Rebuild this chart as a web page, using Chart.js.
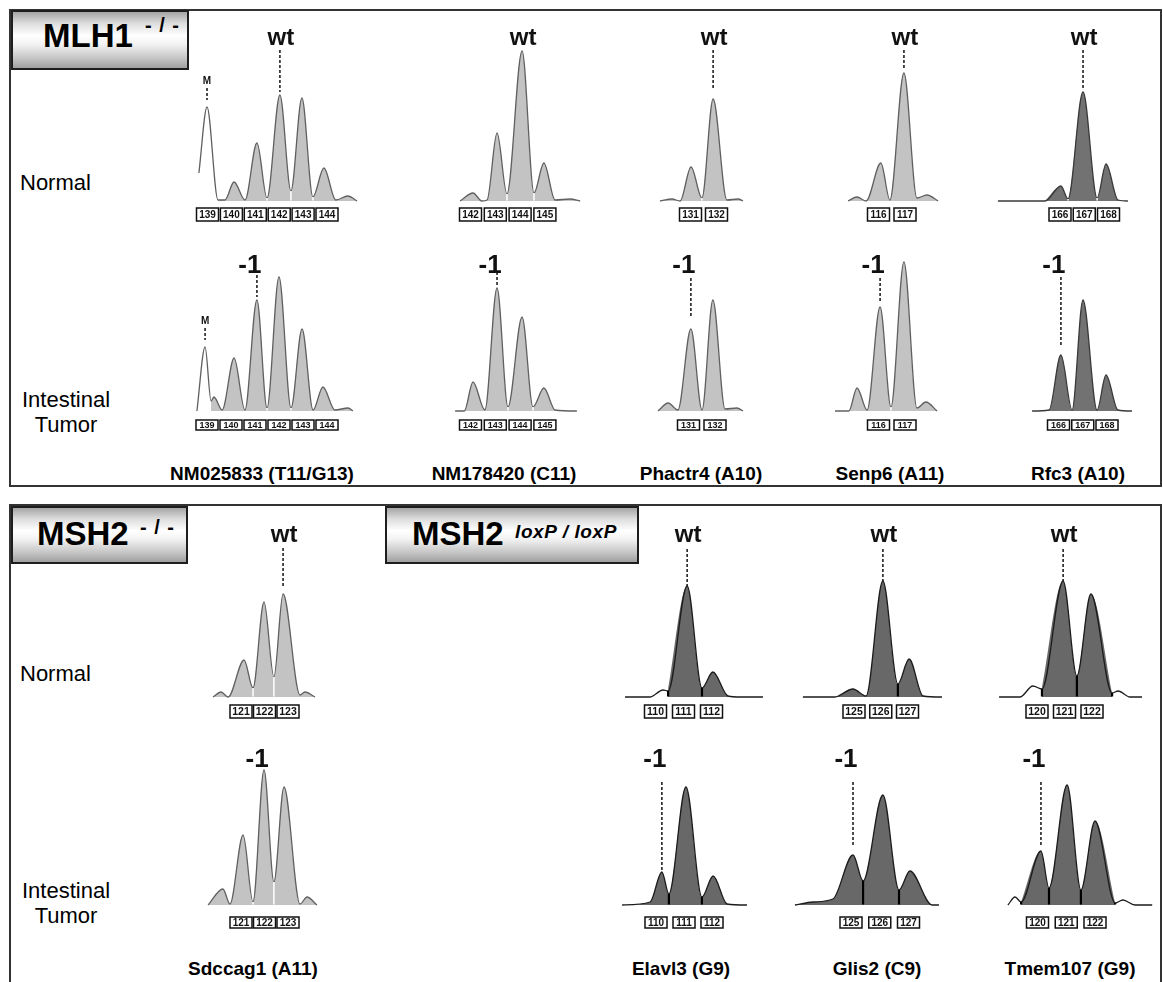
<!DOCTYPE html>
<html>
<head>
<meta charset="utf-8">
<script src="https://cdn.jsdelivr.net/npm/chart.js@4.4.0/dist/chart.umd.min.js"></script>
<style>
  body { margin: 0; background: #fff; font-family: "Liberation Sans", Arial, sans-serif; }
  #fig { position: relative; width: 1163px; height: 982px; overflow: hidden; background: #fff; }
  .panel { position: absolute; box-sizing: border-box; border: 2px solid #333; }
  .badge { position: absolute; box-sizing: border-box; border: 2px solid #1e1e1e;
    background: linear-gradient(#a4a4a4 0%, #dcdcdc 20%, #ffffff 42%, #f2f2f2 58%, #c6c6c6 82%, #a0a0a0 100%); }
  .t { position: absolute; white-space: nowrap; color: #000; }
  .row { font-size: 22px; line-height: 22px; }
  .gene { font-size: 19px; line-height: 19px; font-weight: bold; transform: translateX(-50%); }
  .big { font-size: 33px; line-height: 33px; font-weight: bold; }
  .sup { font-size: 20px; line-height: 20px; font-weight: bold; letter-spacing: 1px; }
  .lox { font-size: 19px; line-height: 19px; font-style: italic; font-weight: bold; letter-spacing: 0.6px; }
  canvas { position: absolute; }
</style>
</head>
<body>
<div id="fig">
  <div class="panel" style="left:9px;top:9px;width:1153px;height:478px"></div>
  <div class="panel" style="left:9px;top:504px;width:1153px;height:500px"></div>

  <div class="badge" style="left:11px;top:10px;width:178px;height:60px"></div>
  <div class="t big" style="left:43px;top:19px">MLH1</div>
  <div class="t sup" style="left:145px;top:15px">- / -</div>

  <div class="badge" style="left:11px;top:506px;width:177px;height:58px"></div>
  <div class="t big" style="left:37px;top:517px">MSH2</div>
  <div class="t sup" style="left:140px;top:517px">- / -</div>

  <div class="badge" style="left:385px;top:506px;width:254px;height:58px"></div>
  <div class="t big" style="left:412px;top:517px">MSH2</div>
  <div class="t lox" style="left:515px;top:522px">loxP / loxP</div>

  <div class="t row" style="left:20px;top:172px">Normal</div>
  <div class="t row" style="left:20px;top:389px;width:92px;text-align:center">Intestinal</div>
  <div class="t row" style="left:20px;top:414px;width:92px;text-align:center">Tumor</div>
  <div class="t row" style="left:20px;top:663px">Normal</div>
  <div class="t row" style="left:20px;top:880px;width:92px;text-align:center">Intestinal</div>
  <div class="t row" style="left:20px;top:905px;width:92px;text-align:center">Tumor</div>
</div>

<script>
// Microsatellite fragment traces: x = fragment size (bp), y = peak height (relative fluorescence)

const ALLELES_NM025833 = [139, 140, 141, 142, 143, 144];
const ALLELES_NM178420 = [142, 143, 144, 145];
const ALLELES_PHACTR4  = [131, 132];
const ALLELES_SENP6    = [116, 117];
const ALLELES_RFC3     = [166, 167, 168];
const ALLELES_SDCCAG1  = [121, 122, 123];
const ALLELES_ELAVL3   = [110, 111, 112];
const ALLELES_GLIS2    = [125, 126, 127];
const ALLELES_TMEM107  = [120, 121, 122];

// MLH1-/- normal
const NM025833_N_BP = [138.64, 138.98, 139.44, 139.73, 140.11, 140.57, 141.07, 141.49, 142.03, 142.49, 142.95, 143.41, 143.87, 144.37, 144.87, 145.26];
const NM025833_N_H  = [28, 94, 1, 1, 19, 1, 58, 3, 106, 10, 103, 4, 33, 1, 5, 0];
const NM178420_N_BP = [141.58, 142.10, 142.46, 142.67, 143.07, 143.47, 144.08, 144.56, 144.96, 145.41, 146.01, 146.42];
const NM178420_N_H  = [0, 8, 0, 1, 68, 7, 150, 8, 38, 1, 2, 0];
const PHACTR4_N_BP  = [129.83, 130.29, 130.60, 131.02, 131.44, 131.87, 132.40, 132.83, 133.02];
const PHACTR4_N_H   = [0, 2, 0, 34, 3, 102, 1, 2, 0];
const SENP6_N_BP    = [114.85, 115.19, 115.53, 116.09, 116.43, 116.96, 117.45, 117.83, 118.25];
const SENP6_N_H     = [0, 4, 0, 38, 1, 128, 3, 6, 0];
const RFC3_N_BP     = [163.44, 165.38, 166.04, 166.33, 166.95, 167.53, 167.90, 168.39, 168.80];
const RFC3_N_H      = [0, 0, 15, 2, 109, 3, 37, 1, 0];

// MLH1-/- intestinal tumor
const NM025833_T_BP = [138.58, 138.92, 139.17, 139.29, 139.63, 140.13, 140.58, 141.08, 141.50, 142.00, 142.50, 142.96, 143.42, 143.83, 144.33, 144.88, 145.08];
const NM025833_T_H  = [0, 64, 10, 14, 1, 53, 1, 111, 3, 134, 3, 82, 1, 24, 1, 3, 0];
const NM178420_T_BP = [141.38, 141.75, 142.10, 142.58, 143.07, 143.51, 144.08, 144.52, 144.96, 145.41, 146.29];
const NM178420_T_H  = [0, 0, 29, 1, 123, 4, 94, 4, 23, 1, 0];
const PHACTR4_T_BP  = [129.85, 130.23, 130.60, 131.09, 131.51, 131.92, 132.38, 132.83, 133.06];
const PHACTR4_T_H   = [0, 8, 1, 82, 1, 111, 2, 3, 0];
const SENP6_T_BP    = [114.36, 114.88, 115.19, 115.57, 116.06, 116.47, 116.96, 117.45, 117.79, 118.21];
const SENP6_T_H     = [0, 0, 23, 1, 104, 4, 149, 3, 9, 0];
const RFC3_T_BP     = [164.91, 165.61, 166.10, 166.56, 167.01, 167.59, 167.96, 168.45, 169.03];
const RFC3_T_H      = [0, 1, 56, 1, 111, 1, 36, 1, 0];

// MSH2 normal
const SDCCAG1_N_BP  = [119.81, 120.15, 120.45, 121.13, 121.51, 121.98, 122.40, 122.79, 123.51, 123.72, 124.15];
const SDCCAG1_N_H   = [0, 5, 0, 37, 9, 95, 20, 103, 2, 5, 0];
const ELAVL3_N_BP   = [108.91, 109.80, 110.27, 110.45, 111.13, 111.66, 112.05, 112.59, 113.02, 113.84];
const ELAVL3_N_H    = [0, 0, 7, 6, 111, 9, 25, 1, 0, 0];
const GLIS2_N_BP    = [123.09, 124.29, 124.96, 125.45, 126.08, 126.64, 127.06, 127.58, 128.29];
const GLIS2_N_H     = [0, 0, 8, 1, 116, 13, 38, 1, 0];
const TMEM107_N_BP  = [118.62, 119.38, 119.85, 120.18, 120.95, 121.45, 121.96, 122.73, 122.95, 123.38, 123.82];
const TMEM107_N_H   = [0, 0, 11, 8, 116, 21, 103, 4, 6, 0, 0];

// MSH2 intestinal tumor
const SDCCAG1_T_BP  = [119.60, 120.23, 120.53, 121.09, 121.51, 121.98, 122.40, 122.83, 123.51, 123.81, 124.23];
const SDCCAG1_T_H   = [0, 16, 1, 70, 3, 135, 23, 118, 1, 8, 0];
const ELAVL3_T_BP   = [108.79, 109.79, 110.21, 110.46, 111.07, 111.64, 112.04, 112.54, 113.25];
const ELAVL3_T_H    = [0, 3, 33, 11, 118, 8, 29, 1, 0];
const GLIS2_T_BP    = [123.05, 123.68, 124.37, 125.07, 125.42, 126.11, 126.67, 127.05, 127.82, 128.06];
const GLIS2_T_H     = [0, 3, 6, 50, 24, 110, 15, 34, 0, 0];
const TMEM107_T_BP  = [118.97, 119.22, 119.43, 120.12, 120.40, 121.03, 121.51, 122.00, 122.70, 122.97, 123.39, 123.99];
const TMEM107_T_H   = [0, 8, 3, 54, 17, 120, 15, 84, 2, 5, 0, 0];

// bin separators [bp, height]
const NM025833_N_BINS = [[141.49, 3], [142.49, 10], [143.41, 4]];
const NM025833_T_BINS = [[141.50, 3], [142.50, 3]];
const NM178420_N_BINS = [[143.47, 7], [144.56, 8]];
const NM178420_T_BINS = [[143.51, 4], [144.52, 4]];
const PHACTR4_BINS    = [[131.44, 3]];
const SENP6_T_BINS    = [[116.47, 4]];
const RFC3_N_BINS     = [[166.33, 2], [167.53, 3]];
const SDCCAG1_N_BINS  = [[121.51, 9], [122.40, 20]];
const SDCCAG1_T_BINS  = [[121.51, 3], [122.40, 23]];
const ELAVL3_N_BINS   = [[110.45, 6], [111.66, 9]];
const ELAVL3_T_BINS   = [[110.46, 11], [111.64, 8]];
const GLIS2_N_BINS    = [[126.64, 13]];
const GLIS2_T_BINS    = [[125.42, 24], [126.67, 15]];
const TMEM107_N_BINS  = [[120.18, 8], [121.45, 21], [122.73, 4]];
const TMEM107_T_BINS  = [[119.43, 3], [120.40, 17], [121.51, 15], [122.70, 2]];

// allele calls: dashed pointer from height `from` down to `to`
const NM025833_N_TAGS = [{ bp: 138.98, text: 'M', from: 113, to: 101 }, { bp: 142.03, text: 'wt', from: 151, to: 109 }];
const NM025833_T_TAGS = [{ bp: 138.92, text: 'M', from: 83, to: 71 }, { bp: 141.08, text: '-1', from: 136, to: 114 }];
const NM178420_N_TAGS = [{ bp: 144.08, text: 'wt', from: 0, to: 0 }];
const NM178420_T_TAGS = [{ bp: 143.07, text: '-1', from: 139, to: 126 }];
const PHACTR4_N_TAGS  = [{ bp: 131.87, text: 'wt', from: 151, to: 112 }];
const PHACTR4_T_TAGS  = [{ bp: 131.09, text: '-1', from: 133, to: 93 }];
const SENP6_N_TAGS    = [{ bp: 116.96, text: 'wt', from: 151, to: 131 }];
const SENP6_T_TAGS    = [{ bp: 116.06, text: '-1', from: 133, to: 109 }];
const RFC3_N_TAGS     = [{ bp: 166.95, text: 'wt', from: 151, to: 113 }];
const RFC3_T_TAGS     = [{ bp: 166.10, text: '-1', from: 134, to: 64 }];
const SDCCAG1_N_TAGS  = [{ bp: 122.79, text: 'wt', from: 149, to: 109 }];
const SDCCAG1_T_TAGS  = [{ bp: 121.98, text: '-1', from: 0, to: 0 }];
const ELAVL3_N_TAGS   = [{ bp: 111.13, text: 'wt', from: 148, to: 111 }];
const ELAVL3_T_TAGS   = [{ bp: 110.21, text: '-1', from: 123, to: 35 }];
const GLIS2_N_TAGS    = [{ bp: 126.08, text: 'wt', from: 148, to: 116 }];
const GLIS2_T_TAGS    = [{ bp: 125.07, text: '-1', from: 123, to: 58 }];
const TMEM107_N_TAGS  = [{ bp: 120.95, text: 'wt', from: 148, to: 113 }];
const TMEM107_T_TAGS  = [{ bp: 120.12, text: '-1', from: 123, to: 58 }];

const GENES_TOP = ['NM025833 (T11/G13)', 'NM178420 (C11)', 'Phactr4 (A10)', 'Senp6 (A11)', 'Rfc3 (A10)'];
const GENES_BOTTOM = ['Sdccag1 (A11)', 'Elavl3 (G9)', 'Glis2 (C9)', 'Tmem107 (G9)'];

// ---- layout (pixels) ----
const ROWS = {
  topN: { top: 18,  bottom: 226, base: 201, textBase: 45,  boxTop: 208, boxH: 13, boxFont: 10 },
  topT: { top: 245, bottom: 434, base: 411, textBase: 273, boxTop: 420, boxH: 10, boxFont: 9 },
  botN: { top: 522, bottom: 722, base: 697, textBase: 542, boxTop: 705, boxH: 13, boxFont: 10.5 },
  botT: { top: 742, bottom: 932, base: 905, textBase: 767, boxTop: 917, boxH: 11, boxFont: 10 },
};
const Y_MAX = 160;
const GENE_TOP_X = [262, 504, 701, 890, 1078], GENE_TOP_Y = 464;
const GENE_BOT_X = [253, 681, 877, 1070], GENE_BOT_Y = 959;

const STYLES = {
  light: { fill: '#c3c3c3', line: '#606060', bin: '#ffffff', binW: 1.5 },
  dark:  { fill: '#727272', line: '#3a3a3a', bin: '#ffffff', binW: 1.5 },
  lox:   { fill: '#686868', line: '#1c1c1c', bin: '#000000', binW: 2.2 },
};

// L/R: canvas extent; p0 = pixel of allele a0; ppb = pixels per bp
const TRACES = [
  { row: 'topN', bp: NM025833_N_BP, h: NM025833_N_H, fill: [2, 15], al: ALLELES_NM025833, bins: NM025833_N_BINS, tags: NM025833_N_TAGS, st: 'light', L: 185, R: 365, p0: 207.5, a0: 139, ppb: 23.9 },
  { row: 'topN', bp: NM178420_N_BP, h: NM178420_N_H, fill: [0, 11], al: ALLELES_NM178420, bins: NM178420_N_BINS, tags: NM178420_N_TAGS, st: 'light', L: 440, R: 590, p0: 470.5, a0: 142, ppb: 24.8 },
  { row: 'topN', bp: PHACTR4_N_BP, h: PHACTR4_N_H, fill: [0, 8], al: ALLELES_PHACTR4, bins: PHACTR4_BINS, tags: PHACTR4_N_TAGS, st: 'light', L: 650, R: 750, p0: 690.5, a0: 131, ppb: 26 },
  { row: 'topN', bp: SENP6_N_BP, h: SENP6_N_H, fill: [0, 8], al: ALLELES_SENP6, bins: [], tags: SENP6_N_TAGS, st: 'light', L: 825, R: 960, p0: 878.5, a0: 116, ppb: 26.5 },
  { row: 'topN', bp: RFC3_N_BP, h: RFC3_N_H, fill: [1, 8], al: ALLELES_RFC3, bins: RFC3_N_BINS, tags: RFC3_N_TAGS, st: 'dark', L: 990, R: 1140, p0: 1060, a0: 166, ppb: 24.25 },

  { row: 'topT', bp: NM025833_T_BP, h: NM025833_T_H, fill: [2, 16], al: ALLELES_NM025833, bins: NM025833_T_BINS, tags: NM025833_T_TAGS, st: 'light', L: 185, R: 365, p0: 207, a0: 139, ppb: 24 },
  { row: 'topT', bp: NM178420_T_BP, h: NM178420_T_H, fill: [0, 10], al: ALLELES_NM178420, bins: NM178420_T_BINS, tags: NM178420_T_TAGS, st: 'light', L: 440, R: 590, p0: 470.5, a0: 142, ppb: 24.8 },
  { row: 'topT', bp: PHACTR4_T_BP, h: PHACTR4_T_H, fill: [0, 8], al: ALLELES_PHACTR4, bins: [], tags: PHACTR4_T_TAGS, st: 'light', L: 650, R: 750, p0: 688.5, a0: 131, ppb: 26.5 },
  { row: 'topT', bp: SENP6_T_BP, h: SENP6_T_H, fill: [0, 9], al: ALLELES_SENP6, bins: SENP6_T_BINS, tags: SENP6_T_TAGS, st: 'light', L: 825, R: 960, p0: 878.5, a0: 116, ppb: 26.5 },
  { row: 'topT', bp: RFC3_T_BP, h: RFC3_T_H, fill: [0, 8], al: ALLELES_RFC3, bins: [], tags: RFC3_T_TAGS, st: 'dark', L: 990, R: 1140, p0: 1058.5, a0: 166, ppb: 24.25 },

  { row: 'botN', bp: SDCCAG1_N_BP, h: SDCCAG1_N_H, fill: [0, 10], al: ALLELES_SDCCAG1, bins: SDCCAG1_N_BINS, tags: SDCCAG1_N_TAGS, st: 'light', L: 200, R: 330, p0: 241, a0: 121, ppb: 23.5 },
  { row: 'botN', bp: ELAVL3_N_BP, h: ELAVL3_N_H, fill: [3, 8], al: ALLELES_ELAVL3, bins: ELAVL3_N_BINS, tags: ELAVL3_N_TAGS, st: 'lox', L: 615, R: 770, p0: 655.5, a0: 110, ppb: 28 },
  { row: 'botN', bp: GLIS2_N_BP, h: GLIS2_N_H, fill: [1, 8], al: ALLELES_GLIS2, bins: GLIS2_N_BINS, tags: GLIS2_N_TAGS, st: 'lox', L: 795, R: 950, p0: 854, a0: 125, ppb: 26.75 },
  { row: 'botN', bp: TMEM107_N_BP, h: TMEM107_N_H, fill: [3, 7], al: ALLELES_TMEM107, bins: TMEM107_N_BINS, tags: TMEM107_N_TAGS, st: 'lox', L: 990, R: 1155, p0: 1037, a0: 120, ppb: 27.5 },

  { row: 'botT', bp: SDCCAG1_T_BP, h: SDCCAG1_T_H, fill: [0, 10], al: ALLELES_SDCCAG1, bins: SDCCAG1_T_BINS, tags: SDCCAG1_T_TAGS, st: 'light', L: 200, R: 330, p0: 241, a0: 121, ppb: 23.5 },
  { row: 'botT', bp: ELAVL3_T_BP, h: ELAVL3_T_H, fill: [0, 8], al: ALLELES_ELAVL3, bins: ELAVL3_T_BINS, tags: ELAVL3_T_TAGS, st: 'lox', L: 615, R: 770, p0: 656, a0: 110, ppb: 28 },
  { row: 'botT', bp: GLIS2_T_BP, h: GLIS2_T_H, fill: [0, 9], al: ALLELES_GLIS2, bins: GLIS2_T_BINS, tags: GLIS2_T_TAGS, st: 'lox', L: 785, R: 950, p0: 851, a0: 125, ppb: 28.75 },
  { row: 'botT', bp: TMEM107_T_BP, h: TMEM107_T_H, fill: [2, 8], al: ALLELES_TMEM107, bins: TMEM107_T_BINS, tags: TMEM107_T_TAGS, st: 'lox', L: 1000, R: 1158, p0: 1037.5, a0: 120, ppb: 28.75 },
];

const FONT = '"Liberation Sans", Arial, sans-serif';
const fig = document.getElementById('fig');

// bins, allele boxes and call labels, all placed through the chart scales
const tracePlugin = {
  id: 'trace',
  afterDatasetsDraw(chart, args, o) {
    const { ctx, scales: { x, y } } = chart;
    const row = ROWS[o.row], st = STYLES[o.st];
    ctx.save();
    o.bins.forEach(([bp, h]) => {
      const px = x.getPixelForValue(bp);
      ctx.strokeStyle = st.bin; ctx.lineWidth = st.binW;
      ctx.beginPath(); ctx.moveTo(px, y.getPixelForValue(0) - 0.5); ctx.lineTo(px, y.getPixelForValue(h)); ctx.stroke();
    });
    const by = row.boxTop - row.top;
    o.al.forEach(a => {
      const cx = x.getPixelForValue(a);
      ctx.fillStyle = '#fff'; ctx.fillRect(cx - 11, by, 22, row.boxH);
      ctx.strokeStyle = '#111'; ctx.lineWidth = 1.5;
      ctx.strokeRect(cx - 11, by, 22, row.boxH);
      ctx.fillStyle = '#111'; ctx.font = `bold ${row.boxFont}px ${FONT}`;
      ctx.textAlign = 'center'; ctx.textBaseline = 'middle';
      ctx.fillText(String(a), cx, by + row.boxH / 2 + 0.5);
    });
    o.tags.forEach(tg => {
      const px = x.getPixelForValue(tg.bp);
      if (tg.from > tg.to) {
        ctx.strokeStyle = '#222'; ctx.lineWidth = 1.6; ctx.setLineDash([3, 2]);
        ctx.beginPath(); ctx.moveTo(px, y.getPixelForValue(tg.from)); ctx.lineTo(px, y.getPixelForValue(tg.to)); ctx.stroke();
        ctx.setLineDash([]);
      }
      ctx.fillStyle = '#111'; ctx.textAlign = 'center'; ctx.textBaseline = 'alphabetic';
      if (tg.text === 'M') {
        ctx.font = `bold 10px ${FONT}`;
        ctx.fillText('M', px, y.getPixelForValue(tg.from) - 4);
      } else if (tg.text === 'wt') {
        ctx.font = `bold 24px ${FONT}`;
        ctx.fillText('wt', px + 1, row.textBase - row.top);
      } else {
        ctx.font = `bold 26px ${FONT}`;
        ctx.fillText(tg.text, px - 7, row.textBase - row.top);
      }
    });
    ctx.restore();
  }
};

TRACES.forEach(t => {
  const row = ROWS[t.row], st = STYLES[t.st];
  const canvas = document.createElement('canvas');
  const w = t.R - t.L, hgt = row.bottom - row.top;
  canvas.width = w; canvas.height = hgt;
  canvas.style.left = t.L + 'px'; canvas.style.top = row.top + 'px';
  canvas.style.width = w + 'px'; canvas.style.height = hgt + 'px';
  fig.appendChild(canvas);

  const pts = t.bp.map((b, i) => ({ x: b, y: t.h[i] }));
  const fillPts = pts.slice(t.fill[0], t.fill[1] + 1);
  new Chart(canvas, {
    type: 'line',
    data: {
      datasets: [
        { data: pts, borderColor: st.line, borderWidth: 1.3, fill: false, pointRadius: 0,
          cubicInterpolationMode: 'monotone', clip: false, order: 0 },
        { data: fillPts, borderWidth: 0, borderColor: 'transparent', backgroundColor: st.fill,
          fill: 'origin', pointRadius: 0, cubicInterpolationMode: 'monotone', clip: false, order: 1 },
      ],
    },
    options: {
      responsive: false, animation: false, events: [],
      layout: { padding: { top: row.base - Y_MAX - row.top, bottom: row.bottom - row.base, left: 0, right: 0 } },
      plugins: {
        legend: { display: false }, tooltip: { enabled: false },
        trace: { row: t.row, st: t.st, bins: t.bins, al: t.al, tags: t.tags },
      },
      scales: {
        x: { type: 'linear', display: false, min: t.a0 + (t.L - t.p0) / t.ppb, max: t.a0 + (t.R - t.p0) / t.ppb },
        y: { display: false, min: 0, max: Y_MAX },
      },
    },
    plugins: [tracePlugin],
  });
});

function geneLabels(names, xs, top) {
  names.forEach((n, i) => {
    const d = document.createElement('div');
    d.className = 't gene';
    d.style.left = xs[i] + 'px'; d.style.top = top + 'px';
    d.textContent = n;
    fig.appendChild(d);
  });
}
geneLabels(GENES_TOP, GENE_TOP_X, GENE_TOP_Y);
geneLabels(GENES_BOTTOM, GENE_BOT_X, GENE_BOT_Y);
</script>
</body>
</html>
